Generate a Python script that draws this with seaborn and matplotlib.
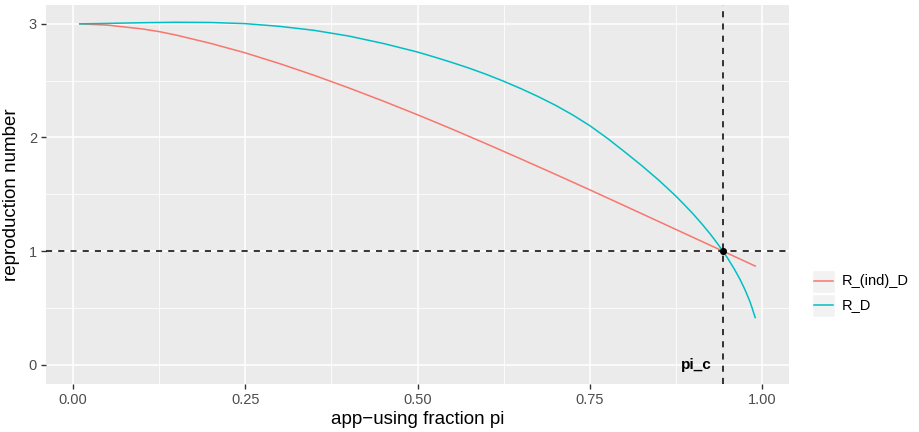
import matplotlib
matplotlib.use("Agg")
import matplotlib.pyplot as plt
import seaborn as sns
import pandas as pd
from matplotlib.lines import Line2D
from matplotlib.patches import Rectangle

# ---- data ----
pi_ind = [0.01, 0.05, 0.10, 0.125, 0.15, 0.20, 0.25, 0.30, 0.35, 0.40, 0.45,
          0.50, 0.55, 0.60, 0.65, 0.70, 0.75, 0.80, 0.85, 0.90, 0.943, 0.99]
r_ind = [3.000, 2.989, 2.956, 2.932, 2.901, 2.828, 2.745, 2.650, 2.547, 2.437,
         2.321, 2.200, 2.074, 1.944, 1.811, 1.676, 1.539, 1.400, 1.260, 1.120,
         1.000, 0.868]

pi_d = [0.01, 0.05, 0.10, 0.15, 0.20, 0.25, 0.30, 0.35, 0.40, 0.45, 0.50,
        0.525, 0.55, 0.575, 0.60, 0.625, 0.65, 0.675, 0.70, 0.725, 0.75,
        0.775, 0.80, 0.825, 0.85, 0.8625, 0.875, 0.8875, 0.90, 0.9125, 0.925,
        0.935, 0.943, 0.95, 0.96, 0.9675, 0.975, 0.9825, 0.99]
r_d = [3.000, 3.004, 3.010, 3.014, 3.012, 3.002, 2.978, 2.943, 2.893, 2.828,
       2.752, 2.707, 2.660, 2.610, 2.555, 2.495, 2.430, 2.360, 2.284, 2.199,
       2.104, 1.995, 1.876, 1.754, 1.624, 1.554, 1.483, 1.406, 1.326, 1.240,
       1.148, 1.068, 1.000, 0.937, 0.838, 0.756, 0.662, 0.553, 0.415]

series_names = ["R_(ind)_D", "R_D"]
series_colors = ["#F8766D", "#00BFC4"]
pi_c = 0.943
r_threshold = 1.0
x_ticks = [0.0, 0.25, 0.50, 0.75, 1.00]
x_ticklabels = ["0.00", "0.25", "0.50", "0.75", "1.00"]
y_ticks = [0, 1, 2, 3]

df = pd.concat([
    pd.DataFrame({"pi": pi_ind, "R": r_ind, "series": series_names[0]}),
    pd.DataFrame({"pi": pi_d, "R": r_d, "series": series_names[1]}),
])

plt.rcParams["font.family"] = ["Liberation Sans", "DejaVu Sans"]

W, H = 920, 432
fig = plt.figure(figsize=(W / 100, H / 100), dpi=100)
ax = fig.add_axes([46 / W, 1 - 384 / H, (789 - 46) / W, (384 - 5) / H])
ax.set_facecolor("#EBEBEB")

sns.lineplot(data=df, x="pi", y="R", hue="series", hue_order=series_names,
             palette=series_colors, ax=ax, linewidth=1.1, legend=False,
             sort=False, estimator=None)

ax.axhline(r_threshold, color="black", linestyle=(0, (4, 4)), linewidth=1.1, zorder=3)
ax.axvline(pi_c, color="black", linestyle=(0, (4, 4)), linewidth=1.1, zorder=3)
ax.scatter([pi_c], [r_threshold], s=26, color="black", zorder=4, linewidths=0)
ax.text(pi_c - 0.016, 0.0, "pi_c", ha="right", va="center",
        fontsize=11, fontweight="bold", color="black")

ax.set_xlim(-0.039, 1.039)
ax.set_ylim(-0.17, 3.166)
ax.set_xticks(x_ticks)
ax.set_xticklabels(x_ticklabels)
ax.set_yticks(y_ticks)
ax.set_xticks([0.125, 0.375, 0.625, 0.875], minor=True)
ax.set_yticks([0.5, 1.5, 2.5], minor=True)
ax.grid(which="major", color="white", linewidth=1.1)
ax.grid(which="minor", color="white", linewidth=0.55)
ax.set_axisbelow(True)
for s in ax.spines.values():
    s.set_visible(False)
ax.tick_params(which="major", length=3.5, width=1.0, color="#333333",
               labelcolor="#4D4D4D", labelsize=10.5, pad=3)
ax.tick_params(which="minor", length=0)
ax.set_xlabel("app\u2212using fraction pi", fontsize=13.5, color="black", labelpad=3)
ax.set_ylabel("reproduction number", fontsize=13.5, color="black", labelpad=6)

# legend (ggplot style: grey95 keys, no title)
key_x0, key_w, key_h = 812, 23, 23
key_centers = [281, 305]
for name, col, cy in zip(series_names, series_colors, key_centers):
    fig.patches.append(Rectangle((key_x0 / W, 1 - (cy + key_h / 2) / H),
                                 key_w / W, key_h / H, transform=fig.transFigure,
                                 facecolor="#F2F2F2", edgecolor="white",
                                 linewidth=1.0, zorder=1))
    fig.lines.append(Line2D([(key_x0 + 2) / W, (key_x0 + key_w - 2) / W],
                            [1 - cy / H, 1 - cy / H], transform=fig.transFigure,
                            color=col, linewidth=1.1, zorder=2))
    fig.text((key_x0 + key_w + 7) / W, 1 - cy / H, name, ha="left", va="center",
             fontsize=10.5, color="black")

fig.savefig("out.png", dpi=100)
